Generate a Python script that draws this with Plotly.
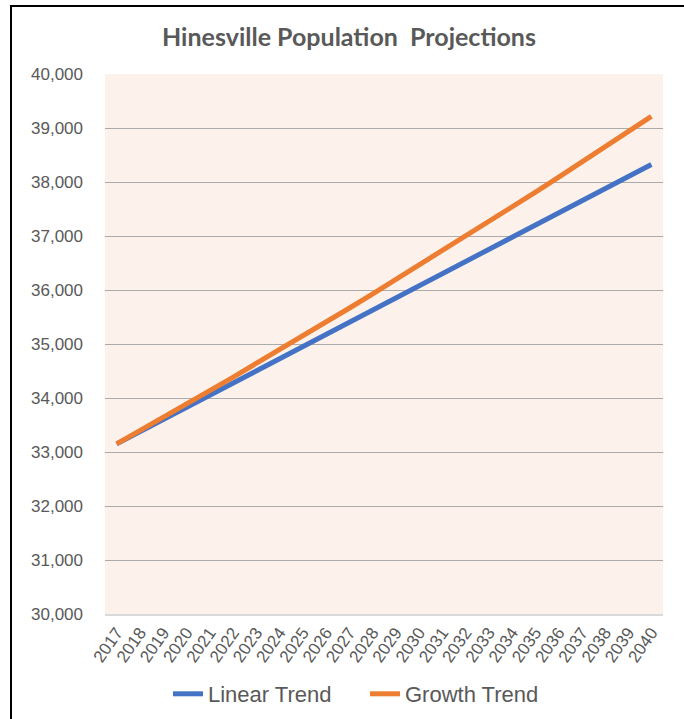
import plotly.graph_objects as go

years = [str(y) for y in range(2017, 2041)]
linear_trend = [33150, 33375, 33600, 33825, 34050, 34275, 34500, 34725, 34950, 35175,
                35400, 35625, 35850, 36075, 36300, 36525, 36750, 36975, 37200, 37425,
                37650, 37875, 38100, 38325]
growth_trend = [33150, 33393, 33640, 33900, 34133, 34383, 34640, 34889, 35150, 35403,
                35662, 35924, 36190, 36452, 36719, 36989, 37270, 37533, 37808, 38085,
                38364, 38646, 38929, 39214]

BLUE = "#4472C4"
ORANGE = "#ED7D31"
GRAY = "#595959"

fig = go.Figure()
fig.add_trace(go.Scatter(x=years, y=linear_trend, mode="lines", name="Linear Trend",
                         line=dict(color=BLUE, width=5)))
fig.add_trace(go.Scatter(x=years, y=growth_trend, mode="lines", name="Growth Trend",
                         line=dict(color=ORANGE, width=5)))

L, R, T, B = 105, 21, 74, 105
W, H = 684, 719
pw, ph = W - L - R, H - T - B

def px(x):
    return (x - L) / pw

def py(y):
    return (H - B - y) / ph

fig.update_layout(
    width=W, height=H,
    margin=dict(l=L, r=R, t=T, b=B, pad=0),
    paper_bgcolor="white",
    plot_bgcolor="#FCF1EB",
    title=dict(text="<b>Hinesville Population  Projections</b>", x=349 / W, xanchor="center",
               xref="container", yref="container",
               y=1 - 37 / H, yanchor="middle",
               font=dict(family="Lato", size=25, color=GRAY)),
    xaxis=dict(type="category", range=[-0.5, 23.5], tickangle=-55,
               showgrid=False, showline=True, linecolor="#D9D9D9", linewidth=2,
               tickfont=dict(family="Liberation Sans", size=17, color=GRAY),
               ticks="", automargin=False, fixedrange=True),
    yaxis=dict(range=[30000, 40000], dtick=1000, tickformat=",",
               showgrid=True, gridcolor="#ABABAB", gridwidth=1.2,
               zeroline=False, showline=False, automargin=False,
               ticklabelstandoff=21,
               tickfont=dict(family="Liberation Sans", size=17, color=GRAY)),
    legend=dict(orientation="h", xref="container", yref="container",
                x=168 / W, xanchor="left",
                y=1 - 694 / H, yanchor="middle",
                entrywidth=152, entrywidthmode="pixels",
                font=dict(family="Liberation Sans", size=22, color=GRAY),
                bgcolor="rgba(0,0,0,0)"),
    shapes=[dict(type="rect", xref="paper", yref="paper",
                 x0=px(11), x1=px(700), y0=py(740), y1=py(6),
                 line=dict(color="black", width=2), fillcolor="rgba(0,0,0,0)",
                 layer="above")],
    showlegend=True,
)

fig.write_html("out.html")
